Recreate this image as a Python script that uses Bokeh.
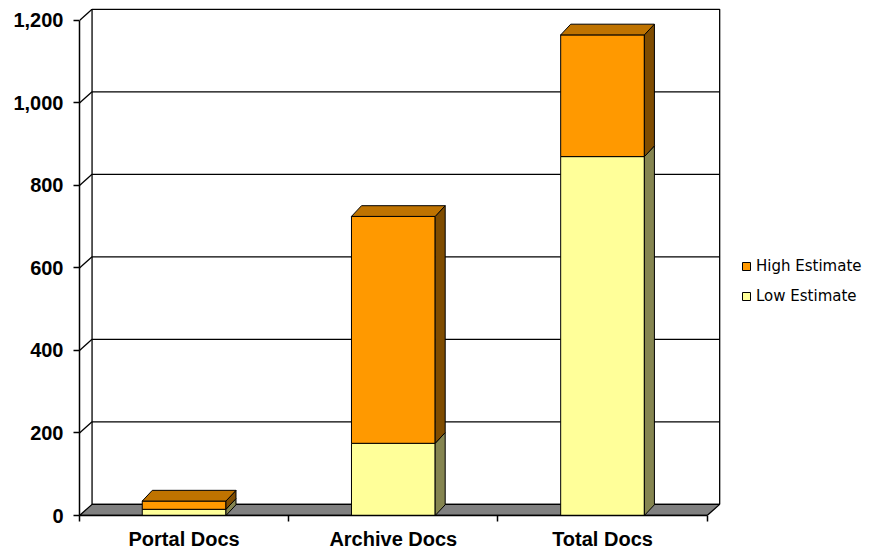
from bokeh.plotting import figure
from bokeh.models import Range1d, FixedTicker, NumeralTickFormatter, Legend, LegendItem
from bokeh.embed import file_html
from bokeh.resources import INLINE

# ---- data ----
categories = ["Portal Docs", "Archive Docs", "Total Docs"]
low_estimate = [15, 175, 870]
high_estimate = [20, 550, 295]
y_ticks = [0, 200, 400, 600, 800, 1000, 1200]
series_names = ["High Estimate", "Low Estimate"]

# ---- style / geometry constants ----
N = len(categories)
Y_MAX = y_ticks[-1]
X_END = 3.8                      # extra room on the right for the legend
BAR_W = 0.4
WALL_DX, WALL_DY = 0.06, 27      # depth of the chart box (data units)
BAR_DX, BAR_DY = 0.048, 26       # depth of each bar (data units)
HIGH_FRONT, HIGH_TOP, HIGH_SIDE = "#FF9900", "#BF7300", "#7F4C00"
LOW_FRONT, LOW_TOP, LOW_SIDE = "#FFFF99", "#BFBF73", "#858550"
FONT = "Liberation Sans"

p = figure(width=874, height=552, output_backend="svg", toolbar_location=None,
           x_range=Range1d(0, X_END), y_range=Range1d(0, Y_MAX + 29),
           min_border_left=79, min_border_right=0, min_border_top=8, min_border_bottom=37)
p.outline_line_color = None
p.xgrid.visible = False
p.ygrid.visible = False
p.background_fill_color = "white"
p.border_fill_color = "white"

# back wall
p.quad(left=[WALL_DX], right=[N + WALL_DX], bottom=[WALL_DY], top=[Y_MAX + WALL_DY],
       fill_color="white", line_color="black", line_width=1.3)
# gridlines on back wall and on the left side wall
gv = y_ticks[1:]
p.segment(x0=[WALL_DX] * len(gv), y0=[v + WALL_DY for v in gv],
          x1=[N + WALL_DX] * len(gv), y1=[v + WALL_DY for v in gv],
          line_color="black", line_width=1.3)
p.segment(x0=[0] * len(gv), y0=gv, x1=[WALL_DX] * len(gv), y1=[v + WALL_DY for v in gv],
          line_color="black", line_width=1.3)
# floor
p.patch([0, N, N + WALL_DX, WALL_DX], [0, 0, WALL_DY, WALL_DY],
        fill_color="#808080", line_color="black", line_width=1.3)

# bars
x0 = [i + 0.5 - BAR_W / 2 for i in range(N)]
x1 = [i + 0.5 + BAR_W / 2 for i in range(N)]
tops = [l + h for l, h in zip(low_estimate, high_estimate)]

def side_faces(bottoms, tops_):
    xs = [[b, b + BAR_DX, b + BAR_DX, b] for b in x1]
    ys = [[y0, y0 + BAR_DY, y1 + BAR_DY, y1] for y0, y1 in zip(bottoms, tops_)]
    return xs, ys

def top_faces(tops_):
    xs = [[a, b, b + BAR_DX, a + BAR_DX] for a, b in zip(x0, x1)]
    ys = [[t, t, t + BAR_DY, t + BAR_DY] for t in tops_]
    return xs, ys

low_r = p.quad(left=x0, right=x1, bottom=[0] * N, top=low_estimate,
               fill_color=LOW_FRONT, line_color="black", line_width=1)
sx, sy = side_faces([0] * N, low_estimate)
p.patches(sx, sy, fill_color=LOW_SIDE, line_color="black", line_width=1)

high_r = p.quad(left=x0, right=x1, bottom=low_estimate, top=tops,
                fill_color=HIGH_FRONT, line_color="black", line_width=1)
sx, sy = side_faces(low_estimate, tops)
p.patches(sx, sy, fill_color=HIGH_SIDE, line_color="black", line_width=1)
tx, ty = top_faces(tops)
p.patches(tx, ty, fill_color=HIGH_TOP, line_color="black", line_width=1)

# axes
ya = p.yaxis[0]
ya.ticker = FixedTicker(ticks=y_ticks)
ya.formatter = NumeralTickFormatter(format="0,0")
ya.bounds = (0, Y_MAX)
ya.major_tick_out = 6
ya.major_tick_in = 0
ya.minor_tick_out = 0
ya.minor_tick_in = 0
ya.axis_line_color = "black"
ya.axis_line_width = 1.5
ya.major_tick_line_color = "black"
ya.major_tick_line_width = 1.5
ya.major_label_standoff = 10
ya.major_label_text_font = FONT
ya.major_label_text_font_style = "bold"
ya.major_label_text_font_size = "20px"
ya.major_label_text_color = "black"

xa = p.xaxis[0]
xa.ticker = FixedTicker(ticks=[i + 0.5 for i in range(N)], minor_ticks=list(range(N + 1)))
xa.major_label_overrides = {i + 0.5: c for i, c in enumerate(categories)}
xa.bounds = (0, N)
xa.major_tick_out = 0
xa.major_tick_in = 0
xa.minor_tick_out = 6
xa.minor_tick_in = 0
xa.minor_tick_line_color = "black"
xa.minor_tick_line_width = 1.5
xa.axis_line_color = "black"
xa.axis_line_width = 1.5
xa.major_label_standoff = 6
xa.major_label_text_font = FONT
xa.major_label_text_font_style = "bold"
xa.major_label_text_font_size = "20px"
xa.major_label_text_color = "black"

legend = Legend(items=[LegendItem(label=series_names[0], renderers=[high_r]),
                       LegendItem(label=series_names[1], renderers=[low_r])],
                location=(662, 209), glyph_width=10, glyph_height=10,
                label_text_font="DejaVu Sans", label_text_font_size="15px",
                label_text_color="black",
                label_standoff=5, spacing=10, label_height=20, padding=0, margin=0,
                border_line_color=None, background_fill_alpha=0)
p.add_layout(legend)

open("out.html", "w").write(file_html(p, INLINE))
